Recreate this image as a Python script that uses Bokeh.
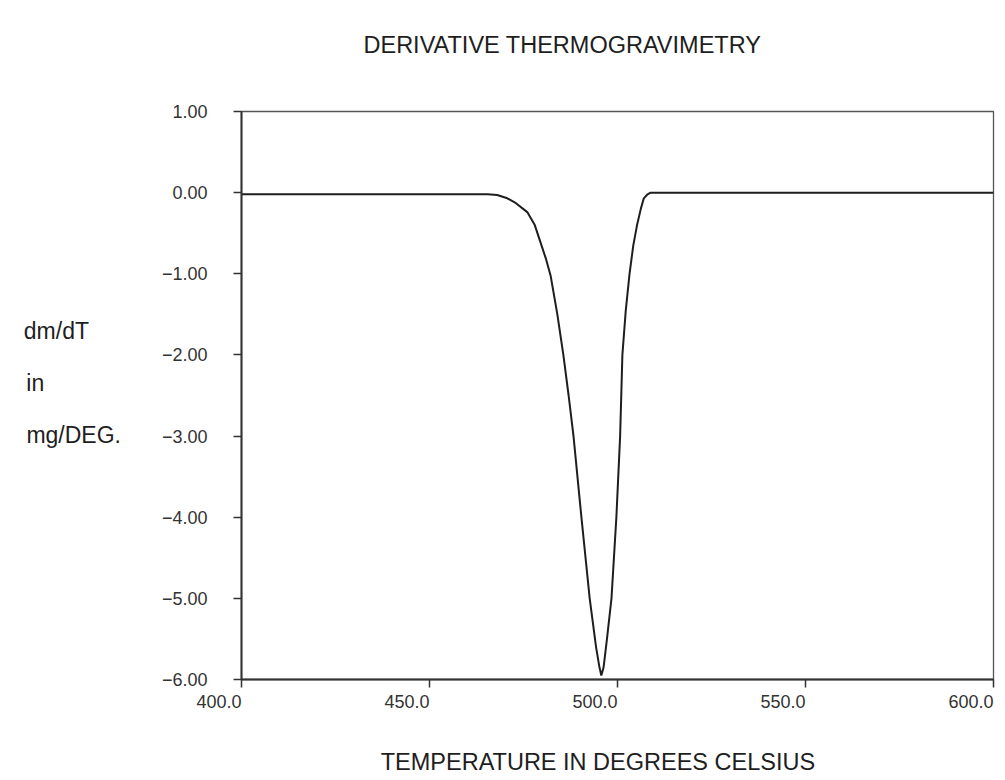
from bokeh.plotting import figure
from bokeh.models import Range1d, FixedTicker
from bokeh.embed import file_html
from bokeh.resources import INLINE

# ---- data ----
temperature = [400, 430, 460, 465.5, 468, 470.7, 473, 476, 478, 479.5, 481, 482.2,
               484, 485.6, 487, 488.3, 490.4, 492.6, 494.3, 495.2, 495.7, 496.3,
               497.2, 498.4, 499.7, 500.7, 501.3, 502.2, 503.2, 504.2, 505.2,
               506.2, 507, 508, 508.8, 512, 540, 570, 600]
dm_dT = [-0.02, -0.02, -0.02, -0.02, -0.03, -0.07, -0.13, -0.24, -0.40, -0.61, -0.82, -1.02,
         -1.50, -2.00, -2.50, -3.00, -4.00, -5.00, -5.60, -5.85, -5.95, -5.85,
         -5.50, -5.00, -4.00, -3.00, -2.00, -1.45, -1.00, -0.65, -0.40,
         -0.20, -0.07, -0.02, 0.00, 0.00, 0.00, 0.00, 0.00]

x_ticks = [400, 450, 500, 550, 600]
x_tick_labels = ["400.0", "450.0", "500.0", "550.0", "600.0"]
y_ticks = [1, 0, -1, -2, -3, -4, -5, -6]
y_tick_labels = ["1.00", "0.00", "\u22121.00", "\u22122.00", "\u22123.00",
                 "\u22124.00", "\u22125.00", "\u22126.00"]

title_text = "DERIVATIVE THERMOGRAVIMETRY"
x_label_text = "TEMPERATURE IN DEGREES CELSIUS"
y_label_lines = ["dm/dT", "in", "mg/DEG."]

FONT = "Liberation Sans"
INK = "#1e1e1e"
TICK_INK = "#333333"
NBSP = "\u00a0"

p = figure(width=1005, height=780, output_backend="svg", toolbar_location=None,
           x_range=Range1d(400, 600), y_range=Range1d(-6, 1),
           min_border_left=241, min_border_right=12,
           min_border_top=111, min_border_bottom=101)
p.grid.visible = False
p.background_fill_color = "white"
p.border_fill_color = "white"
p.outline_line_color = "#555555"
p.outline_line_width = 1.3

# title above the plot (an empty second line lifts it away from the frame)
p.title.text = title_text + "\n"
p.title.align = "left"
p.title.offset = 122
p.title.standoff = 56
p.title.text_font = FONT
p.title.text_font_size = "23.5px"
p.title.text_font_style = "normal"
p.title.text_color = INK

p.xaxis.ticker = FixedTicker(ticks=x_ticks)
p.yaxis.ticker = FixedTicker(ticks=y_ticks)
p.xaxis.major_label_overrides = dict(zip(x_ticks, x_tick_labels))
p.yaxis.major_label_overrides = dict(zip(y_ticks, y_tick_labels))
for ax in (p.xaxis[0], p.yaxis[0]):
    ax.major_tick_in = 0
    ax.major_tick_out = 8
    ax.minor_tick_in = 0
    ax.minor_tick_out = 0
    ax.axis_line_width = 2
    ax.axis_line_color = "#333333"
    ax.major_tick_line_color = "#333333"
    ax.major_tick_line_width = 1.5
    ax.major_label_text_font = FONT
    ax.major_label_text_font_size = "18px"
    ax.major_label_text_color = TICK_INK

# x tick labels end at their tick, as in the reference
p.xaxis.major_label_orientation = 0.0001
p.xaxis.major_label_standoff = 14
p.yaxis.major_label_standoff = 26

# x axis title, shifted a little left of the frame centre
p.xaxis.axis_label = x_label_text + NBSP * 6
p.xaxis.axis_label_standoff = 31
p.xaxis.axis_label_text_font = FONT
p.xaxis.axis_label_text_font_size = "23.5px"
p.xaxis.axis_label_text_font_style = "normal"
p.xaxis.axis_label_text_color = INK

# three left-aligned lines, padded to a common width
pad = {"dm/dT": 5, "in": 12, "mg/DEG.": 0}
padded = [t + NBSP * pad[t] for t in y_label_lines]
p.yaxis.axis_label = "\n\n".join(padded) + "\n"
p.yaxis.axis_label_orientation = "horizontal"
p.yaxis.axis_label_standoff = 38
p.yaxis.axis_label_text_font = FONT
p.yaxis.axis_label_text_font_size = "23px"
p.yaxis.axis_label_text_font_style = "normal"
p.yaxis.axis_label_text_line_height = 1.0
p.yaxis.axis_label_text_color = INK

p.line(temperature, dm_dT, line_color=INK, line_width=2)

open("out.html", "w").write(file_html(p, INLINE))
